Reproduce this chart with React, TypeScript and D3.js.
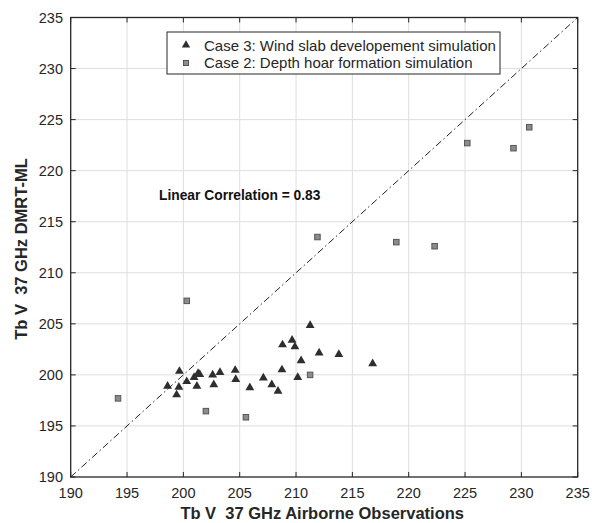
import React from "react";
import * as d3 from "d3";

const xTicks = [190, 195, 200, 205, 210, 215, 220, 225, 230, 235];
const yTicks = [190, 195, 200, 205, 210, 215, 220, 225, 230, 235];

const case3X = [198.6, 199.6, 199.4, 199.65, 200.3, 200.95, 201.3, 201.45, 201.2, 202.6, 202.7, 203.25, 204.6, 204.65, 205.9, 207.1, 207.85, 208.4, 208.75, 208.8, 209.65, 209.9, 210.15, 210.45, 211.25, 212.05, 213.8, 216.8];
const case3Y = [198.95, 198.85, 198.1, 200.4, 199.4, 199.8, 200.2, 200.1, 198.95, 200.05, 199.1, 200.3, 200.5, 199.6, 198.8, 199.75, 199.1, 198.45, 200.55, 203.0, 203.45, 202.8, 199.8, 201.45, 204.9, 202.2, 202.05, 201.15];

const case2X = [194.2, 200.3, 202.0, 205.55, 211.25, 211.9, 218.9, 222.3, 225.2, 229.3, 230.7];
const case2Y = [197.7, 207.25, 196.45, 195.85, 200.0, 213.5, 213.0, 212.6, 222.7, 222.2, 224.25];

const legendLabels = ["Case 3: Wind slab developement simulation", "Case 2: Depth hoar formation simulation"];
const xTitle = "Tb V  37 GHz Airborne Observations";
const yTitle = "Tb V  37 GHz DMRT-ML";
const annotation = "Linear Correlation = 0.83";

const W = 592, H = 523;
const L = 70.7, R = 577.7, T = 17.5, B = 477;

export default function App() {
  const x = d3.scaleLinear().domain([190, 235]).range([L, R]);
  const y = d3.scaleLinear().domain([190, 235]).range([B, T]);
  const font = "'Liberation Sans', Arial, Helvetica, sans-serif";
  const tri = d3.symbol().type(d3.symbolTriangle).size(34)()!;
  const sq = 5.5;
  const line = d3.line<number>().x((d) => x(d)).y((d) => y(d));
  const tl = 5;
  return (
    <svg width={W} height={H} style={{ position: "absolute", left: 0, top: 0, background: "#fff" }} fontFamily={font}>
      <rect x={0} y={0} width={W} height={H} fill="#fff" />
      {/* grid */}
      {xTicks.slice(1, -1).map((t) => (
        <line key={"gx" + t} x1={x(t)} x2={x(t)} y1={T} y2={B} stroke="#dedede" strokeWidth={1} />
      ))}
      {yTicks.slice(1, -1).map((t) => (
        <line key={"gy" + t} x1={L} x2={R} y1={y(t)} y2={y(t)} stroke="#dedede" strokeWidth={1} />
      ))}
      {/* ticks */}
      {xTicks.map((t) => (
        <g key={"tx" + t}>
          <line x1={x(t)} x2={x(t)} y1={B} y2={B - tl} stroke="#262626" />
          <line x1={x(t)} x2={x(t)} y1={T} y2={T + tl} stroke="#262626" />
          <text x={x(t)} y={498} textAnchor="middle" fontSize={14.5} fill="#262626">{t}</text>
        </g>
      ))}
      {yTicks.map((t) => (
        <g key={"ty" + t}>
          <line x1={L} x2={L + tl} y1={y(t)} y2={y(t)} stroke="#262626" />
          <line x1={R} x2={R - tl} y1={y(t)} y2={y(t)} stroke="#262626" />
          <text x={63} y={y(t) + 5} textAnchor="end" fontSize={14.5} fill="#262626">{t}</text>
        </g>
      ))}
      {/* 1:1 line */}
      <path d={line([190, 235])!} stroke="#222" strokeWidth={1} fill="none" strokeDasharray="7,3,1.5,3" />
      {/* data */}
      {case2X.map((v, i) => (
        <rect key={"s" + i} x={x(v) - sq / 2} y={y(case2Y[i]) - sq / 2} width={sq} height={sq} fill="#8c8c8c" stroke="#555" strokeWidth={1} />
      ))}
      {case3X.map((v, i) => (
        <path key={"t" + i} d={tri} transform={`translate(${x(v)},${y(case3Y[i]) + 0.5})`} fill="#2e2e2e" />
      ))}
      {/* axes box */}
      <rect x={L} y={T} width={R - L} height={B - T} fill="none" stroke="#262626" strokeWidth={1.3} />
      {/* legend */}
      <rect x={167} y={32} width={333} height={42} fill="#fff" stroke="#262626" strokeWidth={1} />
      <path d={d3.symbol().type(d3.symbolTriangle).size(30)()!} transform="translate(186,45)" fill="#2e2e2e" />
      <rect x={183.5} y={60.5} width={5} height={5} fill="#8c8c8c" stroke="#555" strokeWidth={1} />
      <text x={204} y={50.5} fontSize={15} fill="#262626">{legendLabels[0]}</text>
      <text x={204} y={67.5} fontSize={15} fill="#262626">{legendLabels[1]}</text>
      {/* annotation */}
      <text x={159} y={200} fontSize={13.8} fontWeight="bold" fill="#111">{annotation}</text>
      {/* titles */}
      <text x={(L + R) / 2 - 2} y={519} textAnchor="middle" fontSize={16.5} fontWeight="bold" fill="#262626" style={{ whiteSpace: "pre" }}>{xTitle}</text>
      <text transform="translate(27,249) rotate(-90)" textAnchor="middle" fontSize={16.5} fontWeight="bold" fill="#262626" style={{ whiteSpace: "pre" }}>{yTitle}</text>
    </svg>
  );
}
